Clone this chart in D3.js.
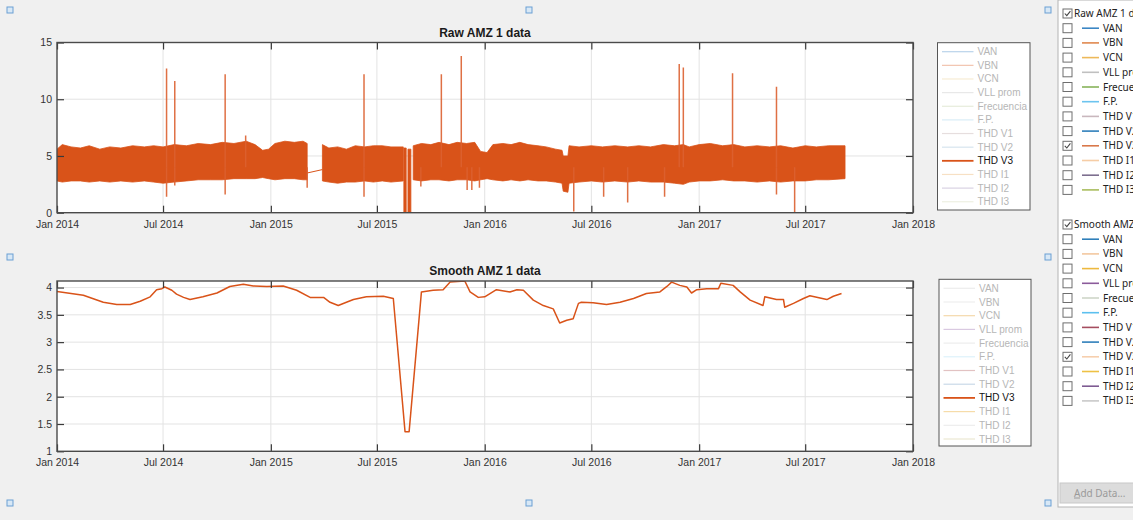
<!DOCTYPE html>
<html>
<head>
<meta charset="utf-8">
<script src="https://cdn.jsdelivr.net/npm/d3@7"></script>
<style>
  html, body { margin: 0; padding: 0; background: #f0f0f0; }
  svg { display: block; }
</style>
</head>
<body>
<script>
// ---------------- DATA ----------------
const seriesLabels = ["VAN","VBN","VCN","VLL prom","Frecuencia","F.P.","THD V1","THD V2","THD V3","THD I1","THD I2","THD I3"];
const activeSeries = "THD V3";
const rawTitle = "Raw AMZ 1 data";
const smoothTitle = "Smooth AMZ 1 data";

const xTickDates = ["2014-01-01","2014-07-01","2015-01-01","2015-07-01","2016-01-01","2016-07-01","2017-01-01","2017-07-01","2018-01-01"];
const xTickLabels = ["Jan 2014","Jul 2014","Jan 2015","Jul 2015","Jan 2016","Jul 2016","Jan 2017","Jul 2017","Jan 2018"];
const rawYTicks = [0, 5, 10, 15];
const smoothYTicks = [1, 1.5, 2, 2.5, 3, 3.5, 4];

// Raw THD V3: envelope of the dense band (null = gap in the record)
const rawBandDates = [
 "2014-01-01","2014-01-10","2014-01-25","2014-02-10","2014-02-25","2014-03-15","2014-04-01","2014-04-20","2014-05-10","2014-05-30",
 "2014-06-15","2014-07-01","2014-07-20","2014-08-10","2014-08-30","2014-09-20","2014-10-10","2014-10-30","2014-11-20","2014-12-05",
 "2014-12-18","2014-12-28","2015-01-08","2015-01-25","2015-02-10","2015-02-25","2015-03-04","2015-03-15",
 "2015-03-30","2015-04-10","2015-04-25","2015-05-10","2015-05-25","2015-06-10","2015-06-25","2015-07-10","2015-07-25","2015-08-15","2015-08-15",
 "2015-08-16","2015-08-20","2015-08-21",
 "2015-08-23","2015-08-28","2015-08-29",
 "2015-09-01","2015-09-15","2015-10-01","2015-10-15","2015-11-01","2015-11-15","2015-12-01","2015-12-15","2015-12-25","2016-01-05",
 "2016-01-15","2016-02-01","2016-02-15","2016-03-01","2016-03-15","2016-04-01","2016-04-15","2016-05-01","2016-05-12","2016-05-14",
 "2016-05-22","2016-05-24","2016-06-10","2016-07-01","2016-07-20","2016-08-10","2016-09-01","2016-09-20","2016-10-10","2016-11-01",
 "2016-11-20","2016-12-05","2016-12-15","2017-01-01","2017-01-20","2017-02-10","2017-03-01","2017-03-20","2017-04-10","2017-05-01",
 "2017-05-20","2017-06-10","2017-07-01","2017-07-20","2017-08-10","2017-09-07"
];
const rawBandLow = [
 2.8,2.7,2.8,2.8,2.7,2.8,2.7,2.8,2.7,2.8,
 2.7,2.6,2.7,2.8,2.9,2.9,2.9,3.0,3.0,3.0,
 3.1,3.0,2.9,3.0,3.0,2.9,2.9,null,
 2.8,2.7,2.6,2.7,2.7,2.8,2.7,2.8,2.7,2.8,null,
 0,0,null,
 0,0,null,
 2.9,2.8,2.9,2.9,2.8,2.9,2.9,2.8,2.9,3.0,
 2.9,2.8,2.9,2.8,2.9,2.8,2.8,2.7,2.6,1.9,
 1.8,2.6,2.7,2.8,2.7,2.8,2.7,2.8,2.7,2.7,
 2.6,2.5,2.7,2.8,2.8,2.9,2.8,2.8,2.7,2.8,
 2.7,2.8,2.8,2.9,2.9,3.0
];
const rawBandHigh = [
 5.6,6.0,5.8,5.7,5.9,5.6,5.8,5.7,5.9,5.8,
 5.9,5.8,6.0,5.9,6.1,6.0,6.2,6.1,6.3,6.0,
 5.5,5.6,6.1,6.3,6.2,6.3,6.1,null,
 6.0,5.7,5.8,5.6,5.9,5.8,5.9,5.9,5.8,5.8,null,
 5.7,5.7,null,
 5.6,5.6,null,
 5.9,6.1,6.0,6.2,6.0,6.2,6.1,6.2,5.4,5.3,
 6.0,6.1,6.0,6.2,6.0,5.9,5.8,5.6,5.5,5.0,
 5.0,5.9,5.8,5.9,5.8,5.9,5.8,5.9,5.8,6.0,
 5.9,6.0,5.8,6.0,6.1,5.9,6.0,5.8,5.9,5.8,
 5.9,5.7,5.9,5.8,5.9,5.9
];
// Raw line across the March 2015 gap
const rawGapDates = ["2015-03-04","2015-03-30"];
const rawGapValues = [3.5, 3.8];
// Isolated raw samples outside the band
const rawSpikeUpDates = ["2014-07-07","2014-07-21","2014-10-15","2014-11-19","2015-06-09","2015-10-19","2015-11-22","2016-11-28","2016-12-05","2017-02-27","2017-05-13"];
const rawSpikeUpValues = [12.7, 11.6, 12.2, 6.8, 12.2, 12.2, 13.8, 13.1, 12.8, 12.3, 11.1];
const rawSpikeDownDates = ["2014-07-07","2014-07-21","2014-10-15","2015-03-04","2015-06-09","2015-09-14","2015-12-02","2015-12-10","2015-12-23","2016-06-01","2016-07-22","2016-09-01","2016-11-03","2017-05-13","2017-06-13"];
const rawSpikeDownValues = [1.4, 2.4, 1.6, 2.2, 1.4, 2.3, 2.0, 2.0, 2.2, 0.1, 1.4, 0.9, 1.4, 1.6, 0.0];

// Smoothed THD V3
const smoothDates = [
 "2014-01-01","2014-02-15","2014-03-21","2014-04-13","2014-05-06","2014-05-23","2014-06-09","2014-06-20","2014-06-29","2014-07-04",
 "2014-07-16","2014-07-24","2014-08-05","2014-08-16","2014-09-07","2014-10-01","2014-10-23","2014-11-15","2014-12-02","2014-12-25",
 "2015-01-22","2015-02-14","2015-03-09","2015-04-01","2015-04-12","2015-04-26","2015-05-10","2015-05-22","2015-06-13","2015-07-12",
 "2015-07-29","2015-08-18","2015-08-25","2015-09-15","2015-10-05","2015-10-22","2015-11-03","2015-11-28","2015-12-07","2015-12-21",
 "2016-01-01","2016-01-21","2016-02-13","2016-02-25","2016-03-07","2016-03-24","2016-04-10","2016-04-27","2016-05-08","2016-05-20",
 "2016-05-31","2016-06-09","2016-06-14","2016-07-04","2016-07-27","2016-08-19","2016-09-11","2016-10-03","2016-10-26","2016-11-07",
 "2016-11-15","2016-11-29","2016-12-11","2016-12-19","2016-12-28","2017-01-14","2017-02-03","2017-02-07","2017-02-28","2017-03-12",
 "2017-03-29","2017-04-20","2017-04-23","2017-05-13","2017-05-25","2017-05-27","2017-06-11","2017-06-28","2017-07-09","2017-08-07",
 "2017-08-18","2017-09-01"
];
const smoothValues = [
 3.93,3.86,3.73,3.69,3.69,3.75,3.83,3.96,3.98,4.01,
 3.95,3.88,3.82,3.78,3.83,3.90,4.02,4.06,4.03,4.02,
 4.03,3.95,3.82,3.82,3.73,3.67,3.73,3.78,3.83,3.84,
 3.80,1.36,1.36,3.92,3.95,3.96,4.10,4.12,3.92,3.82,
 3.83,3.96,3.92,3.96,3.95,3.77,3.67,3.61,3.35,3.40,
 3.43,3.71,3.73,3.72,3.69,3.73,3.80,3.89,3.92,4.02,
 4.10,4.04,4.01,3.90,3.96,3.98,3.98,4.08,4.04,3.92,
 3.77,3.67,3.83,3.78,3.78,3.64,3.71,3.80,3.85,3.78,
 3.84,3.89
];

// legend / panel swatch colours
const rawLegendColors = ["#b9d3ea","#f2c3ad","#f7ecd4","#e8e8e8","#e6ecda","#d9ecf6","#e6dede","#d6e4ef","#D95319","#f7e0c4","#d9d2e2","#eef0e2"];
const smoothLegendColors = ["#ececec","#efefef","#f4d9ab","#d9c9e1","#ededed","#ddf2fb","#e2c2c2","#c9d9e8","#D95319","#f6dca9","#ededed","#ebe8d2"];
const rawPanelColors = ["#3b86c4","#e0884f","#edb95a","#c0c0c0","#88b35a","#6cc4ef","#c9b7bd","#2f7fba","#d9784a","#f6cda6","#7d6f8f","#a9bd5e"];
const smoothPanelColors = ["#2f7fba","#f3c8a0","#edb93f","#8b5b9b","#cfd6c8","#5cc0ef","#a54d5f","#2f7fba","#f6cfae","#eec145","#7e5b92","#c9c9c9"];

// ---------------- DRAWING ----------------
const W = 1133, H = 520;
const parse = d3.timeParse("%Y-%m-%d");
const tickDates = xTickDates.map(parse);
const FONT = "'Liberation Sans', Arial, Helvetica, sans-serif";

const svg = d3.select("body").append("svg").attr("width", W).attr("height", H)
  .style("font-family", FONT);
svg.append("rect").attr("width", W).attr("height", H).attr("fill", "#f0f0f0");

const xLeft = 57, xRight = 913;
const x = d3.scaleTime().domain([tickDates[0], tickDates[tickDates.length - 1]]).range([xLeft, xRight]);

function axesFrame(g, y, yTicks, top, bottom, title, clipId) {
  g.append("rect").attr("x", xLeft).attr("y", top).attr("width", xRight - xLeft).attr("height", bottom - top).attr("fill", "#fff");
  // grid
  g.append("g").selectAll("line").data(tickDates.slice(1, -1)).join("line")
    .attr("x1", d => x(d)).attr("x2", d => x(d)).attr("y1", top).attr("y2", bottom)
    .attr("stroke", "#e3e3e3").attr("stroke-width", 1);
  g.append("g").selectAll("line").data(yTicks.filter(v => y(v) > top + 1 && y(v) < bottom - 1)).join("line")
    .attr("x1", xLeft).attr("x2", xRight).attr("y1", d => y(d)).attr("y2", d => y(d))
    .attr("stroke", "#e3e3e3").attr("stroke-width", 1);
  g.append("clipPath").attr("id", clipId).append("rect")
    .attr("x", xLeft).attr("y", top).attr("width", xRight - xLeft).attr("height", bottom - top);
  g.append("text").attr("x", (xLeft + xRight) / 2).attr("y", top - 6)
    .attr("text-anchor", "middle").attr("font-weight", "bold").attr("font-size", "12px").attr("fill", "#1a1a1a").text(title);
}

function axesOverlay(g, y, yTicks, top, bottom) {
  const fmtX = (d, i) => xTickLabels[i];
  const ax = g.append("g").attr("transform", `translate(0,${bottom})`)
    .call(d3.axisBottom(x).tickValues(tickDates).tickFormat(fmtX).tickSizeInner(-7).tickSizeOuter(0).tickPadding(7.5));
  g.append("g").attr("transform", `translate(0,${top})`)
    .call(d3.axisTop(x).tickValues(tickDates).tickFormat("").tickSizeInner(-7).tickSizeOuter(0));
  g.append("g").attr("transform", `translate(${xLeft},0)`)
    .call(d3.axisLeft(y).tickValues(yTicks).tickFormat(d3.format("~g")).tickSizeInner(-7).tickSizeOuter(0).tickPadding(5));
  g.append("g").attr("transform", `translate(${xRight},0)`)
    .call(d3.axisRight(y).tickValues(yTicks).tickFormat("").tickSizeInner(-7).tickSizeOuter(0));
  g.selectAll(".domain").remove();
  g.selectAll(".tick line").attr("stroke", "#3a3a3a").attr("stroke-width", 1.2);
  g.selectAll(".tick text").attr("fill", "#333").attr("font-size", "10.5px").attr("font-family", FONT);
  g.append("rect").attr("x", xLeft).attr("y", top).attr("width", xRight - xLeft).attr("height", bottom - top)
    .attr("fill", "none").attr("stroke", "#4a4a4a").attr("stroke-width", 1.4);
}

function legend(g, colors, x0, y0, x1, y1, rowY0, rowStep) {
  g.append("rect").attr("x", x0).attr("y", y0).attr("width", x1 - x0).attr("height", y1 - y0)
    .attr("fill", "#fff").attr("stroke", "#555").attr("stroke-width", 1);
  seriesLabels.forEach((lab, i) => {
    const yy = rowY0 + i * rowStep;
    const on = lab === activeSeries;
    g.append("line").attr("x1", x0 + 4.5).attr("x2", x0 + 36).attr("y1", yy).attr("y2", yy)
      .attr("stroke", colors[i]).attr("stroke-width", on ? 1.8 : 1.2);
    g.append("text").attr("x", x0 + 40).attr("y", yy).attr("dy", "0.35em")
      .attr("font-size", "10px").attr("fill", on ? "#111" : "#b6b6b6").text(lab);
  });
}

// ---- Raw plot ----
const rTop = 42.5, rBottom = 212.7;
const yRaw = d3.scaleLinear().domain([0, 15]).range([rBottom, rTop]);
const gRaw = svg.append("g");
axesFrame(gRaw, yRaw, rawYTicks, rTop, rBottom, rawTitle, "clipRaw");
const rawData = rawBandDates.map((d, i) => ({ d: parse(d), lo: rawBandLow[i], hi: rawBandHigh[i] }));
const plotRaw = gRaw.append("g").attr("clip-path", "url(#clipRaw)");
plotRaw.append("path").datum(rawData)
  .attr("d", d3.area().defined(p => p.lo != null).x(p => x(p.d)).y0(p => yRaw(p.lo)).y1(p => yRaw(p.hi)))
  .attr("fill", "#D95319").attr("stroke", "#D95319").attr("stroke-width", 0.8);
plotRaw.append("path").datum(rawGapDates.map((d, i) => ({ d: parse(d), v: rawGapValues[i] })))
  .attr("d", d3.line().x(p => x(p.d)).y(p => yRaw(p.v)))
  .attr("fill", "none").attr("stroke", "#D95319").attr("stroke-width", 1);
const spikes = rawSpikeUpDates.map((d, i) => ({ d: parse(d), v: rawSpikeUpValues[i] }))
  .concat(rawSpikeDownDates.map((d, i) => ({ d: parse(d), v: rawSpikeDownValues[i] })));
plotRaw.append("g").selectAll("line").data(spikes).join("line")
  .attr("x1", p => x(p.d)).attr("x2", p => x(p.d)).attr("y1", yRaw(4)).attr("y2", p => yRaw(p.v))
  .attr("stroke", "#DC6030").attr("stroke-width", 1.5).attr("stroke-opacity", 0.9);
axesOverlay(gRaw, yRaw, rawYTicks, rTop, rBottom);
legend(svg.append("g"), rawLegendColors, 937.5, 42.7, 1030, 210, 51.7, 13.64);

// ---- Smooth plot ----
const sTop = 281, sBottom = 451.3;
const ySm = d3.scaleLinear().domain([1, 4.12]).range([sBottom, sTop]);
const gSm = svg.append("g");
axesFrame(gSm, ySm, smoothYTicks, sTop, sBottom, smoothTitle, "clipSm");
gSm.append("g").attr("clip-path", "url(#clipSm)").append("path")
  .datum(smoothDates.map((d, i) => ({ d: parse(d), v: smoothValues[i] })))
  .attr("d", d3.line().x(p => x(p.d)).y(p => ySm(p.v)))
  .attr("fill", "none").attr("stroke", "#D95319").attr("stroke-width", 1.5).attr("stroke-linejoin", "round");
axesOverlay(gSm, ySm, smoothYTicks, sTop, sBottom);
legend(svg.append("g"), smoothLegendColors, 939, 279.3, 1031, 446, 288.3, 13.7);

// ---- selection handles ----
const hx = [10, 529, 1048], hy = [10, 257, 503];
hx.forEach(a => hy.forEach(b => {
  if (a === 529 && b === 257) return;
  svg.append("rect").attr("x", a - 3).attr("y", b - 3).attr("width", 6).attr("height", 6)
    .attr("fill", "#d8e8f6").attr("stroke", "#6b9fd3").attr("stroke-width", 1);
}));

// ---- right-hand data panel ----
const panel = svg.append("g").style("font-family", "'Noto Sans', 'Open Sans', sans-serif");
panel.append("rect").attr("x", 1058).attr("y", 0).attr("width", 80).attr("height", 507)
  .attr("fill", "#fff").attr("stroke", "#b4b4b4").attr("stroke-width", 1);
function checkbox(xx, yy, checked) {
  panel.append("rect").attr("x", xx).attr("y", yy - 4.5).attr("width", 9).attr("height", 9)
    .attr("fill", "#fff").attr("stroke", "#6e6e6e").attr("stroke-width", 1);
  if (checked) panel.append("path")
    .attr("d", `M${xx + 1.8},${yy} L${xx + 3.8},${yy + 2.2} L${xx + 7.4},${yy - 2.4}`)
    .attr("fill", "none").attr("stroke", "#444").attr("stroke-width", 1.1);
}
function section(title, colors, yHead, rowStep) {
  checkbox(1063, yHead, true);
  panel.append("text").attr("x", 1074).attr("y", yHead).attr("dy", "0.35em")
    .attr("font-size", "10px").attr("fill", "#222").text(title);
  seriesLabels.forEach((lab, i) => {
    const yy = yHead + (i + 1) * rowStep;
    checkbox(1063, yy, lab === activeSeries);
    panel.append("line").attr("x1", 1082).attr("x2", 1099).attr("y1", yy).attr("y2", yy)
      .attr("stroke", colors[i]).attr("stroke-width", 1.6);
    panel.append("text").attr("x", 1103).attr("y", yy).attr("dy", "0.35em")
      .attr("font-size", "10px").attr("fill", "#222").text(lab);
  });
}
section(rawTitle, rawPanelColors, 13.5, 14.7);
section("Smooth AMZ 1 data", smoothPanelColors, 224.5, 14.7);
panel.append("rect").attr("x", 1060).attr("y", 483).attr("width", 80).attr("height", 20)
  .attr("fill", "#dcdcdc").attr("stroke", "#c8c8c8");
panel.append("text").attr("x", 1074).attr("y", 493).attr("dy", "0.35em")
  .attr("font-size", "10px").attr("fill", "#9a9a9a").text("Add Data...");
panel.append("line").attr("x1", 1074).attr("x2", 1080).attr("y1", 498).attr("y2", 498).attr("stroke", "#9a9a9a");
</script>
</body>
</html>
